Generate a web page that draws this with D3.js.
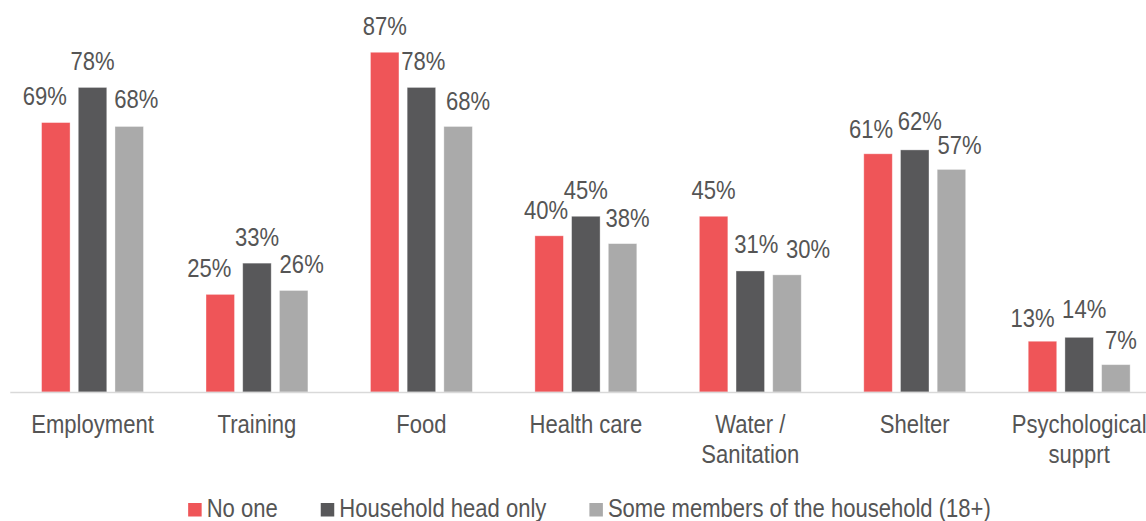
<!DOCTYPE html>
<html>
<head>
<meta charset="utf-8">
<script src="https://cdn.jsdelivr.net/npm/d3@7"></script>
<style>
  html, body { margin: 0; padding: 0; background: #fff; }
  svg { display: block; }
  text { font-family: "Liberation Sans", Arial, sans-serif; fill: #555555; }
</style>
</head>
<body>
<svg id="chart" width="1146" height="521"></svg>
<script>
// Support needs by who in the household is working (share of households, %)
const categories = ["Employment", "Training", "Food", "Health care", "Water / Sanitation", "Shelter", "Psychological supprt"];
const categoryLines = [["Employment"], ["Training"], ["Food"], ["Health care"], ["Water /", "Sanitation"], ["Shelter"], ["Psychological", "supprt"]];
const seriesNames = ["No one", "Household head only", "Some members of the household (18+)"];
const noOne       = [69, 25, 87, 40, 45, 61, 13];
const headOnly    = [78, 33, 78, 45, 31, 62, 14];
const someMembers = [68, 26, 68, 38, 30, 57, 7];
const seriesColors = ["#EF5558", "#58585A", "#AAAAAA"];

// Hand-placed data labels: horizontal shift and gap above the bar (px)
const labelShift = [
  [-11, -11, 0, -3, 0, -7, -10],
  [0, 0, 2, 0, 6, 5, 5],
  [7, 8, 10, 5, 21, 8, 5]
];
const labelGap = [
  [17.3, 17.7, 17.3, 17, 17.5, 15.7, 14.3],
  [17.7, 17.3, 17.7, 17.4, 17.7, 20, 19],
  [18.4, 17.4, 16.7, 16.7, 16.7, 15.7, 15.7]
];

const seriesValues = [noOne, headOnly, someMembers];
const FONT = 25.5;
const SX = 0.865; // horizontal squeeze of the text face

const svg = d3.select("#chart");

const x0 = d3.scaleBand().domain(categories).range([10.3, 1161.4]).padding(0);
const x1 = d3.scaleBand().domain(d3.range(3)).range([0, x0.bandwidth()])
  .paddingInner(0.2234).paddingOuter(0.852);
const y = d3.scaleLinear().domain([0, 1]).range([392, 1.5]);

const fmt = d3.format(".0%");

// Bars
const groups = svg.append("g").selectAll("g")
  .data(categories)
  .join("g")
  .attr("transform", d => `translate(${x0(d)},0)`);

groups.selectAll("rect")
  .data((c, ci) => seriesValues.map((vals, si) => ({ si, ci, v: vals[ci] / 100 })))
  .join("rect")
  .attr("x", d => x1(d.si))
  .attr("width", x1.bandwidth())
  .attr("y", d => y(d.v))
  .attr("height", d => y(0) - y(d.v))
  .attr("fill", d => seriesColors[d.si])
  .attr("stroke", "#ffffff")
  .attr("stroke-opacity", 0.45)
  .attr("stroke-width", 0.8);

// Data labels
groups.selectAll("text.val")
  .data((c, ci) => seriesValues.map((vals, si) => ({ si, ci, v: vals[ci] / 100 })))
  .join("text")
  .attr("class", "val")
  .attr("text-anchor", "middle")
  .attr("font-size", FONT)
  .attr("transform", d => `translate(${x1(d.si) + x1.bandwidth() / 2 + labelShift[d.si][d.ci]},${y(d.v) - labelGap[d.si][d.ci]}) scale(${SX},1)`)
  .text(d => fmt(d.v));

// Category axis line
svg.append("line")
  .attr("x1", x0.range()[0]).attr("x2", x0.range()[1])
  .attr("y1", y(0) + 0.5).attr("y2", y(0) + 0.5)
  .attr("stroke", "#D9D9D9").attr("stroke-width", 1.6);

// Category labels
const catLabels = svg.append("g").selectAll("text")
  .data(categories)
  .join("text")
  .attr("text-anchor", "middle")
  .attr("font-size", FONT)
  .attr("transform", d => `translate(${x0(d) + x0.bandwidth() / 2},433) scale(${SX},1)`);
catLabels.selectAll("tspan")
  .data((d, i) => categoryLines[i])
  .join("tspan")
  .attr("x", 0)
  .attr("dy", (d, i) => i === 0 ? 0 : 30.5)
  .text(d => d);

// Legend
const legend = svg.append("g");
const items = legend.selectAll("g")
  .data(seriesNames)
  .join("g");
items.append("rect")
  .attr("width", 13.5).attr("height", 13.5)
  .attr("y", 503)
  .attr("fill", (d, i) => seriesColors[i]);
items.append("text")
  .attr("font-size", FONT)
  .attr("transform", `translate(18.5,516.5) scale(${SX},1)`)
  .text(d => d);

let widths = [];
items.each(function () {
  const t = d3.select(this).select("text").node();
  widths.push(18.5 + t.getComputedTextLength() * SX);
});
const gap = 43;
const total = d3.sum(widths) + gap * (widths.length - 1);
let cursor = 589.5 - total / 2;
items.attr("transform", (d, i) => {
  const tx = cursor;
  cursor += widths[i] + gap;
  return `translate(${tx},0)`;
});
</script>
</body>
</html>
